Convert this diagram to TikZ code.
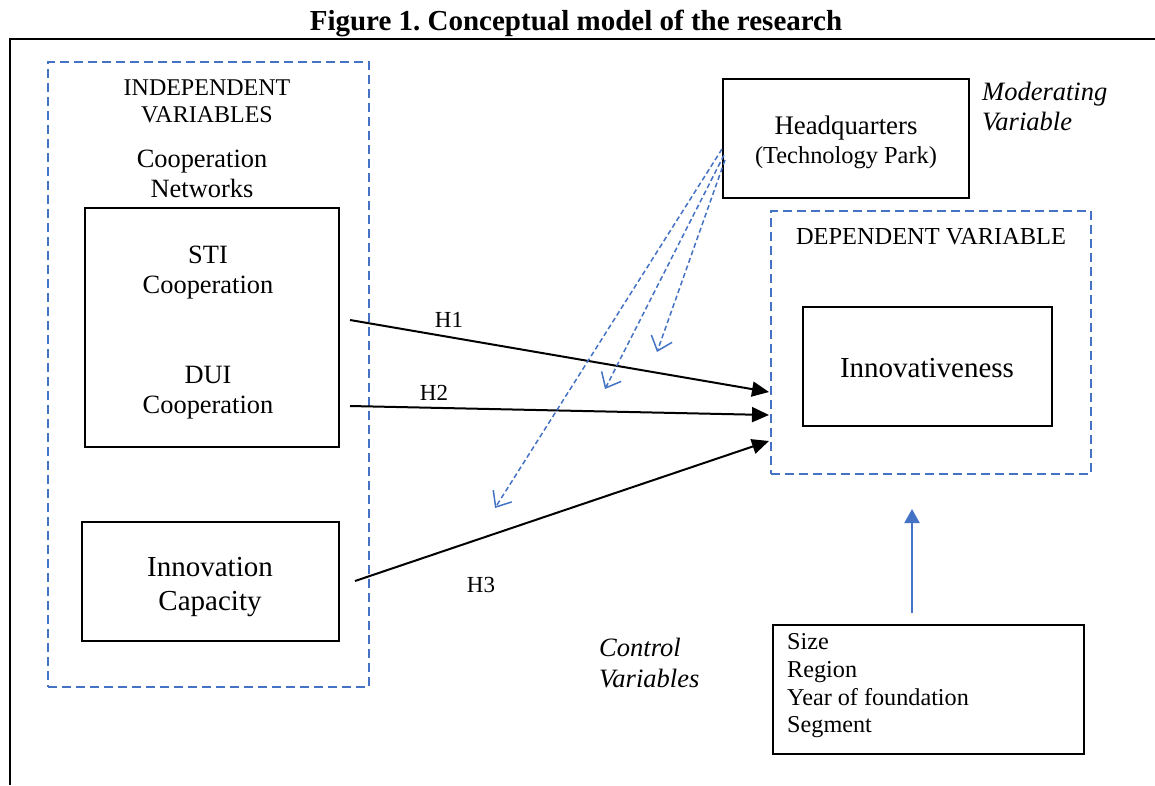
\documentclass[tikz,border=0pt]{standalone}
\usepackage{fontspec}
\setmainfont{Liberation Serif}
\usetikzlibrary{arrows.meta}
\definecolor{accent}{RGB}{68,114,196}
\frenchspacing
\begin{document}
\begin{tikzpicture}[x=1pt,y=-1pt,
  box/.style={draw=black, line width=1.3pt, inner sep=0pt, outer sep=0pt},
  groupbox/.style={draw=accent, line width=2.8pt, dash pattern=on 9pt off 5pt, inner sep=0pt, outer sep=0pt},
  lbl/.style={inner sep=0pt, align=center},
  hyp/.style={-{Triangle[length=17pt,width=15pt]}, line width=2pt},
  moder/.style={draw=accent, line width=1.5pt, dash pattern=on 5pt off 3pt, -{Straight Barb[length=13pt,width=22pt]}},
  ctrlarrow/.style={draw=accent, line width=2.2pt, -{Triangle[length=14pt,width=15pt]}},
  fs/.style 2 args={font=\fontsize{#1}{#2}\selectfont},
]
\useasboundingbox (0,0) rectangle (1155,785);

% outer frame and title
\draw[line width=1.6pt] (10,785) -- (10,39) -- (1155,39);
\node[lbl, font=\bfseries\fontsize{29}{33}\selectfont] (title) at (576,23.5) {Figure 1. Conceptual model of the research};

% grouping boxes
\node[groupbox, minimum width=321pt, minimum height=625pt] (indep) at (208.5,374.5) {};
\node[groupbox, minimum width=320pt, minimum height=263pt] (dep) at (931,342.5) {};

% solid boxes
\node[box, minimum width=254pt, minimum height=239pt] (netbox) at (212,327.5) {};
\node[box, minimum width=257pt, minimum height=119pt] (icbox) at (210.5,581.5) {};
\node[box, minimum width=249pt, minimum height=119pt] (innovbox) at (927.5,366.5) {};
\node[box, minimum width=246pt, minimum height=119pt] (hq) at (846,138.5) {};
\node[box, minimum width=311pt, minimum height=129pt] (ctrl) at (928.5,689.5) {};

% labels
\node[lbl, fs={24}{27}] (indeplbl) at (207,101) {INDEPENDENT\\VARIABLES};
\node[lbl, fs={26.4}{30}] (coop) at (202,174) {Cooperation\\Networks};
\node[lbl, fs={26.4}{30}] (sti) at (208,273) {STI\\Cooperation};
\node[lbl, fs={26.4}{30}] (dui) at (208,393) {DUI\\Cooperation};
\node[lbl, fs={29}{34}] (ic) at (210,587) {Innovation\\Capacity};
\node[lbl, fs={29}{34}] (innov) at (927,368) {Innovativeness};
\node[lbl, fs={24.4}{27}] (deplbl) at (931,237) {DEPENDENT VARIABLE};
\node[lbl, fs={26.8}{29}] (hqlbl) at (846,142) {Headquarters\\{\fontsize{24.4}{29}\selectfont(Technology Park)}};
\node[lbl, font=\itshape\fontsize{26.5}{30}\selectfont, align=left, anchor=west] (mod) at (982,107) {Moderating\\Variable};
\node[lbl, font=\itshape\fontsize{26.5}{31}\selectfont, align=left, anchor=west] (ctrllbl) at (599,663) {Control\\Variables};
\node[lbl, fs={24.2}{27.7}, align=left, anchor=west] (ctrltxt) at (787,686) {Size\\Region\\Year of foundation\\Segment};
\node[lbl, fs={23}{27}] (h1) at (449,320) {H1};
\node[lbl, fs={23}{27}] (h2) at (434,393) {H2};
\node[lbl, fs={23}{27}] (h3) at (481,585) {H3};

% hypothesis arrows
\coordinate (h1s) at (350,320);
\coordinate (h2s) at (350,406);
\coordinate (h3s) at (355,581);
\coordinate (h1e) at (769,392);
\coordinate (h2e) at (769,415);
\coordinate (h3e) at (769,441);
\draw[hyp] (h1s) -- (h1e);
\draw[hyp] (h2s) -- (h2e);
\draw[hyp] (h3s) -- (h3e);

% moderating arrows
\coordinate (m1s) at (722,149);
\coordinate (m2s) at (724,155);
\coordinate (m3s) at (725,160);
\coordinate (m1e) at (495,508);
\coordinate (m2e) at (605,389);
\coordinate (m3e) at (657,352);
\draw[moder] (m1s) -- (m1e);
\draw[moder] (m2s) -- (m2e);
\draw[moder] (m3s) -- (m3e);

% control variables arrow
\coordinate (cs) at (912,613);
\coordinate (ce) at (912,509);
\draw[ctrlarrow] (cs) -- (ce);
\end{tikzpicture}
\end{document}
